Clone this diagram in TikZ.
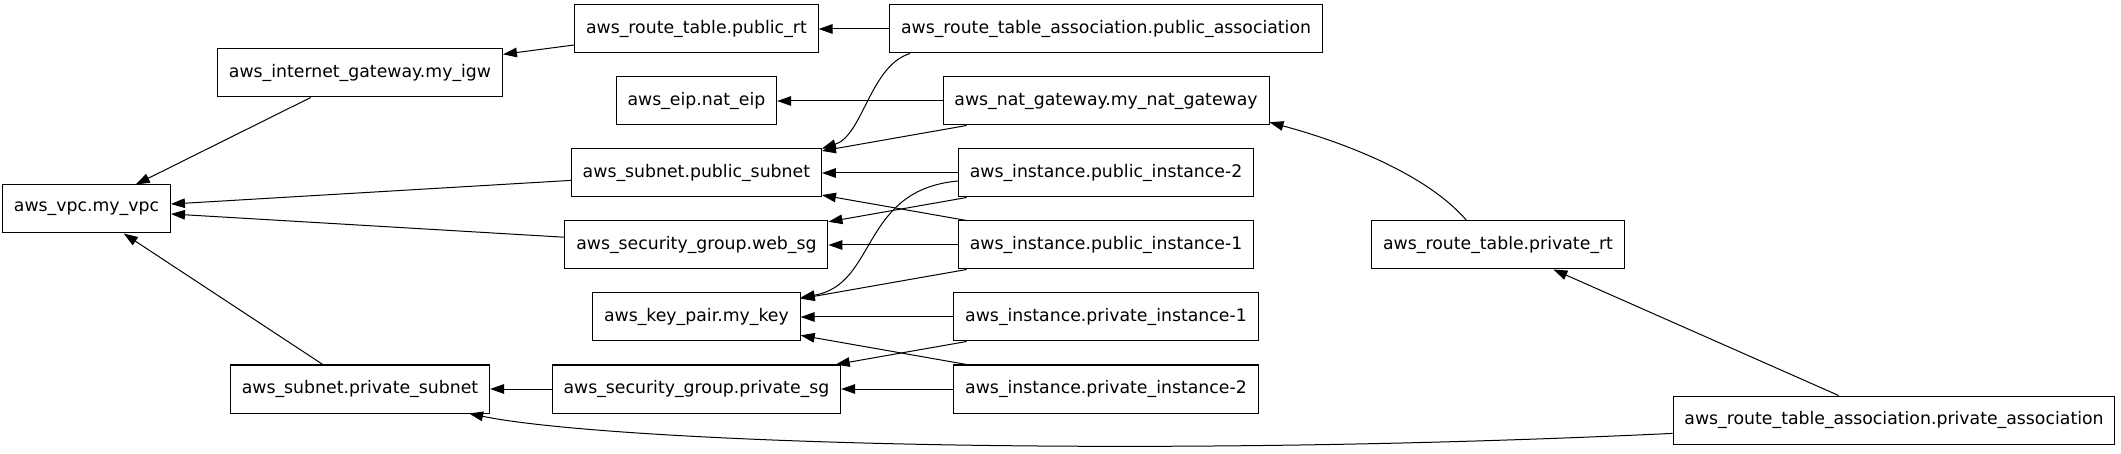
\documentclass[tikz,border=0pt]{standalone}
\usepackage{fontspec}
\setmainfont{DejaVu Sans}
\usetikzlibrary{positioning,arrows.meta}

\begin{document}
\begin{tikzpicture}[x=0.5pt,y=-0.5pt,-,>={Triangle[length=7pt,width=4.8pt]},line width=0.5pt,
  node distance=36pt,
  res node/.style={rectangle,draw,minimum height=24pt,inner xsep=5.7pt,inner ysep=0pt,
    font=\fontsize{8.65pt}{10pt}\selectfont}]

  \useasboundingbox (0,0) rectangle (2121,454);

  \node[res node] (vpc) at (86.5,209) {aws\_vpc.my\_vpc};
  \node[res node] (igw) at (360,73) {aws\_internet\_gateway.my\_igw};

  \node[res node] (pubrt) at (696.4,29) {aws\_route\_table.public\_rt};
  \node[res node] (eip) [below of=pubrt] {aws\_eip.nat\_eip};
  \node[res node] (pubsub) [below of=eip] {aws\_subnet.public\_subnet};
  \node[res node] (websg) [below of=pubsub] {aws\_security\_group.web\_sg};
  \node[res node] (key) [below of=websg] {aws\_key\_pair.my\_key};
  \node[res node] (privsg) [below of=key] {aws\_security\_group.private\_sg};
  \node[res node] (privsub) [left of=privsg, node distance=168.2pt] {aws\_subnet.private\_subnet};

  \node[res node] (pubassoc) [right of=pubrt, node distance=204.8pt] {aws\_route\_table\_association.public\_association};
  \node[res node] (nat) [below of=pubassoc] {aws\_nat\_gateway.my\_nat\_gateway};
  \node[res node] (pi2) [below of=nat] {aws\_instance.public\_instance-2};
  \node[res node] (pi1) [below of=pi2] {aws\_instance.public\_instance-1};
  \node[res node] (pri1) [below of=pi1] {aws\_instance.private\_instance-1};
  \node[res node] (pri2) [below of=pri1] {aws\_instance.private\_instance-2};

  \node[res node] (privrt) [right of=pi1, node distance=196pt] {aws\_route\_table.private\_rt};
  \node[res node] (privassoc) at (1894,420) {aws\_route\_table\_association.private\_association};

  \path[->]
    (igw) edge (vpc)
    (pubsub) edge (vpc)
    (websg) edge (vpc)
    (privsub) edge (vpc)

    (pubrt) edge (igw)
    (pubassoc) edge (pubrt)
    (nat) edge (eip)
    (nat) edge (pubsub)

    (pi2) edge (pubsub)
    (pi2) edge (websg)
    (pi1) edge (pubsub)
    (pi1) edge (websg)
    (pi1) edge (key)

    (pri1) edge (key)
    (pri1) edge (privsg)
    (pri2) edge (key)
    (pri2) edge (privsg)
    (privsg) edge (privsub)

    (privassoc) edge (privrt)
    ;

  \draw[->] ([xshift=10.5pt]pubassoc.south west) .. controls +(-40,12) and +(41,-13) .. (pubsub.north east);
  \draw[->] ([yshift=-4pt]pi2.west) .. controls +(-98,9) and +(77,-13) .. ([yshift=-2.5pt]key.north east);
  \draw[->] ([xshift=-15.7pt]privrt.north) .. controls +(-42,-49) and +(67,18) .. ([yshift=1.6pt]nat.south east);
  \draw[->] ([yshift=-6.7pt]privassoc.west) .. controls +(-573,27) and +(130,27) .. ([xshift=-10.5pt]privsub.south east);

\end{tikzpicture}
\end{document}
